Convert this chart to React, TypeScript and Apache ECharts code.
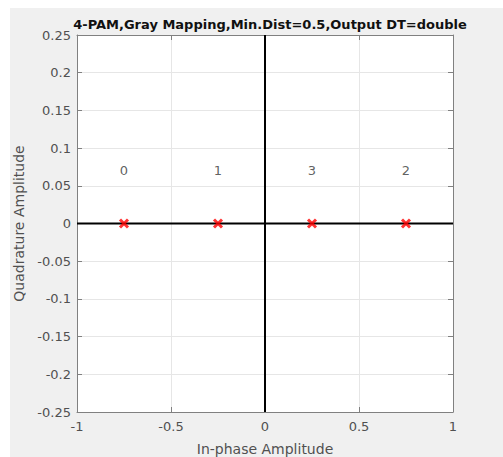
import React, { useEffect, useRef } from "react";
import * as echarts from "echarts";

const titleText = "4-PAM,Gray Mapping,Min.Dist=0.5,Output DT=double";
const xName = "In-phase Amplitude";
const yName = "Quadrature Amplitude";
const symbolLabels = ["0", "1", "3", "2"];
const inPhase = [-0.75, -0.25, 0.25, 0.75];
const quadrature = [0, 0, 0, 0];
const labelY = [0.07, 0.07, 0.07, 0.07];
const xRange = [-1, 1];
const yRange = [-0.25, 0.25];
const xInterval = 0.5;
const yInterval = 0.05;

const FONT = "DejaVu Sans";
const fmt = (v: number) => {
  const r = Math.round(v * 100) / 100;
  return String(r);
};

export default function App() {
  const ref = useRef<HTMLDivElement>(null);
  useEffect(() => {
    if (!ref.current) return;
    const chart = echarts.init(ref.current, null, { renderer: "svg" });
    const axisLine = { show: true, lineStyle: { color: "#808080", width: 1 } };
    const axisTick = { show: true, inside: true, length: 5, lineStyle: { color: "#808080" } };
    const splitLine = { show: true, lineStyle: { color: "#e6e6e6", width: 1 } };
    const labelStyle = { color: "#505050", fontFamily: FONT, fontSize: 13 };
    chart.setOption({
      animation: false,
      backgroundColor: "#ffffff",
      graphic: [
        {
          type: "rect",
          z: -100,
          shape: { x: 10, y: 8, width: 493, height: 449 },
          style: { fill: "#f0f0f0" },
          silent: true,
        },
      ],
      title: {
        text: titleText,
        left: 265,
        textAlign: "center",
        top: 13,
        textStyle: { fontFamily: FONT, fontSize: 13, fontWeight: "bold", color: "#111111" },
      },
      grid: {
        left: 77,
        top: 35,
        width: 376,
        height: 377,
        show: true,
        backgroundColor: "#ffffff",
        borderWidth: 0,
        containLabel: false,
        outerBoundsMode: "none",
      },
      xAxis: [
        {
          type: "value",
          min: xRange[0],
          max: xRange[1],
          interval: xInterval,
          position: "bottom",
          axisLine: { ...axisLine, onZero: false },
          axisTick,
          splitLine,
          axisLabel: { ...labelStyle, margin: 8, formatter: fmt },
          name: xName,
          nameLocation: "middle",
          nameGap: 30,
          nameTextStyle: { color: "#505050", fontFamily: FONT, fontSize: 14 },
        },
        {
          type: "value",
          min: xRange[0],
          max: xRange[1],
          interval: xInterval,
          position: "top",
          axisLine: { ...axisLine, onZero: false },
          axisTick,
          splitLine: { show: false },
          axisLabel: { show: false },
        },
      ],
      yAxis: [
        {
          type: "value",
          min: yRange[0],
          max: yRange[1],
          interval: yInterval,
          position: "left",
          axisLine: { ...axisLine, onZero: false },
          axisTick,
          splitLine,
          axisLabel: { ...labelStyle, margin: 6, formatter: fmt },
          name: yName,
          nameLocation: "middle",
          nameGap: 42,
          nameTextStyle: { color: "#505050", fontFamily: FONT, fontSize: 14 },
        },
        {
          type: "value",
          min: yRange[0],
          max: yRange[1],
          interval: yInterval,
          position: "right",
          axisLine: { ...axisLine, onZero: false },
          axisTick,
          splitLine: { show: false },
          axisLabel: { show: false },
        },
      ],
      series: [
        {
          type: "line",
          data: [
            [xRange[0], 0],
            [xRange[1], 0],
          ],
          symbol: "none",
          lineStyle: { color: "#000000", width: 2 },
          silent: true,
          z: 3,
        },
        {
          type: "line",
          data: [
            [0, yRange[0]],
            [0, yRange[1]],
          ],
          symbol: "none",
          lineStyle: { color: "#000000", width: 2 },
          silent: true,
          z: 3,
        },
        {
          type: "scatter",
          data: inPhase.map((x, i) => [x, quadrature[i]]),
          symbol: "path://M0,0L10,10M10,0L0,10",
          symbolSize: 8,
          itemStyle: { color: "#ff0000", borderColor: "#ff0000", borderWidth: 3 },
          z: 5,
          silent: true,
        },
        {
          type: "scatter",
          data: inPhase.map((x, i) => ({ name: symbolLabels[i], value: [x, labelY[i]] })),
          symbolSize: 0,
          label: {
            show: true,
            position: "inside",
            formatter: "{b}",
            color: "#383838",
            fontFamily: FONT,
            fontSize: 13,
          },
          silent: true,
        },
      ],
    });
    return () => chart.dispose();
  }, []);
  return (
    <div
      ref={ref}
      style={{ position: "fixed", left: 0, top: 0, width: 503, height: 457 }}
    />
  );
}
